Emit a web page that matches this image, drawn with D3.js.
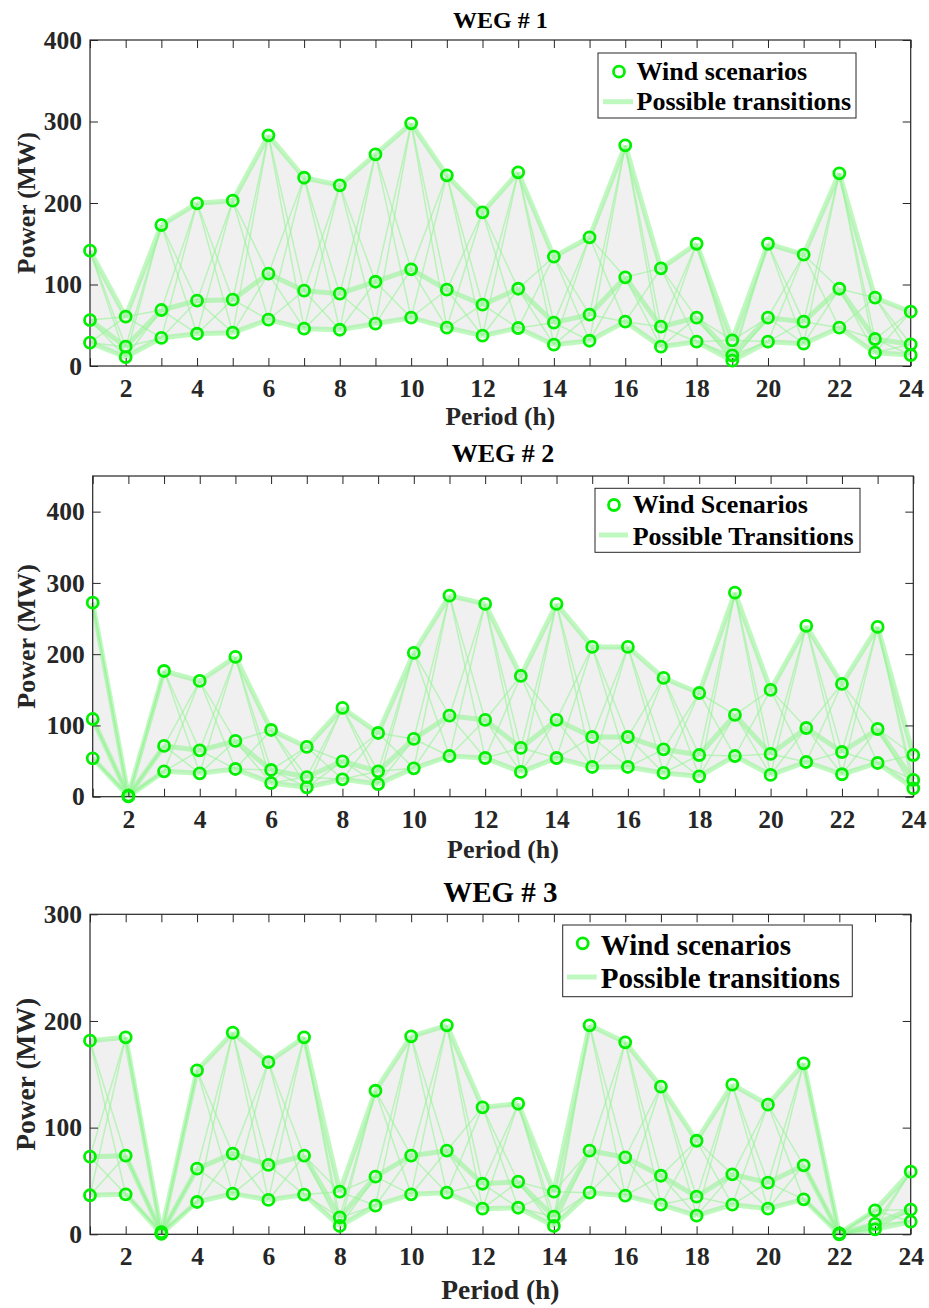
<!DOCTYPE html>
<html>
<head>
<meta charset="utf-8">
<script src="https://cdn.jsdelivr.net/npm/d3@7"></script>
<style>
  body { margin: 0; background: #fff; }
  svg { display: block; font-family: "Liberation Serif", "Times New Roman", serif; font-weight: bold; }
</style>
</head>
<body>
<svg id="chart" width="929" height="1308"></svg>
<script>
// periods (h)
const periods = [1,2,3,4,5,6,7,8,9,10,11,12,13,14,15,16,17,18,19,20,21,22,23,24];

// WEG #1 scenarios (MW)
const weg1High = [141.5, 60.5, 173, 199.6, 202.8, 283, 231, 221.7, 259.7, 297.8, 234, 188.6, 237.6, 134.1, 157.9, 270.8, 119.8, 150, 31.5, 150, 136.6, 236.4, 83.8, 66.6];
const weg1Mid  = [56.4, 23.7, 68.7, 80.1, 81.4, 113.3, 92.4, 88.7, 103.4, 118.6, 93.6, 75.2, 94.8, 53.2, 63, 108.8, 48.2, 59.3, 13.1, 59.3, 54.4, 94.8, 33.1, 26.6];
const weg1Low  = [28.6, 11, 34.4, 39.6, 40.9, 56.8, 45.8, 44.5, 51.9, 59.3, 47, 37.2, 46.6, 26.2, 31, 54.4, 23.7, 29.8, 6.5, 29.8, 27.4, 47, 16.3, 13.5];

// WEG #2 scenarios (MW)
const weg2High = [272.3, 1.5, 176.4, 162.4, 196.1, 93.6, 69.8, 124.5, 89.4, 201.7, 282.1, 270.5, 169.4, 270.5, 210.1, 210.1, 166.6, 145.5, 286.3, 149.8, 239.6, 158.2, 238.2, 58.5];
const weg2Mid  = [109, 1, 71.2, 65.1, 78.2, 37.5, 27.6, 49.7, 35.6, 81, 113.7, 107.7, 68.4, 107.7, 83.8, 83.8, 66.5, 58.5, 114.7, 60, 96.4, 62.7, 95, 23.5];
const weg2Low  = [53.9, 0.5, 35.6, 32.8, 38.9, 19.2, 13.2, 24.4, 17.8, 39.8, 57.1, 54.3, 34.7, 54.3, 41.7, 41.7, 33.3, 28.6, 57.1, 30.5, 48.7, 31.5, 47.3, 11.8];

// WEG #3 scenarios (MW)
const weg3High = [181.5, 184.7, 2, 153.7, 189, 161.5, 184.7, 40, 134.6, 185.6, 195.9, 119, 122.4, 40, 195.9, 180, 138.4, 87.7, 140.3, 121.5, 160.3, 0.8, 22.5, 58.7];
const weg3Mid  = [72.8, 73.7, 1, 61.5, 75.6, 65, 73.7, 15.9, 54, 73.7, 78.4, 47.4, 49.3, 16.5, 78.4, 72.2, 54.9, 35.3, 56.2, 48.4, 64.7, 0.4, 9.7, 23.1];
const weg3Low  = [36.6, 37.5, 0.5, 30.3, 38.1, 32.2, 37.2, 7.8, 26.8, 37.5, 39, 24, 24.9, 7.8, 39, 36.2, 27.8, 17.5, 27.8, 24, 32.8, 0, 4.7, 11.8];

const yTicks1 = [0, 100, 200, 300, 400];
const yTicks2 = [0, 100, 200, 300, 400];
const yTicks3 = [0, 100, 200, 300];

const titles = ['WEG # 1', 'WEG # 2', 'WEG # 3'];
const legendLabels = [
  ['Wind scenarios', 'Possible transitions'],
  ['Wind Scenarios', 'Possible Transitions'],
  ['Wind scenarios', 'Possible transitions']
];

const axisColor = '#262626';
const markerColor = '#00f000';
const transColor = 'rgb(150,245,150)';

const svg = d3.select('#chart');

const panels = [
  { series: [weg1High, weg1Mid, weg1Low], yMax: 400, yTicks: yTicks1, title: titles[0], legend: legendLabels[0],
    left: 90, right: 910.7, top: 40, bottom: 366, titleY: 28, titleSize: 24, labelSize: 25.5, labelY: 425, legendSize: 26,
    lg: { x0: 598, x1: 856, y0: 53, y1: 118, mx: 619, my: 71.7, tx: 636.5, ty1: 80, ty2: 110, lx0: 603, lx1: 633, ly: 101.7 } },
  { series: [weg2High, weg2Mid, weg2Low], yMax: 450, yTicks: yTicks2, title: titles[1], legend: legendLabels[1],
    left: 92.7, right: 913.3, top: 476, bottom: 796.7, titleY: 461.5, titleSize: 26, labelSize: 26, labelY: 858, legendSize: 26,
    lg: { x0: 595, x1: 860, y0: 488.3, y1: 552.3, mx: 614, my: 505, tx: 632.7, ty1: 513, ty2: 545, lx0: 599, lx1: 628, ly: 535 } },
  { series: [weg3High, weg3Mid, weg3Low], yMax: 300, yTicks: yTicks3, title: titles[2], legend: legendLabels[2],
    left: 90, right: 910.7, top: 914.3, bottom: 1234.3, titleY: 901.5, titleSize: 29, labelSize: 27.5, labelY: 1299, legendSize: 29,
    lg: { x0: 562.7, x1: 852.3, y0: 925, y1: 996.7, mx: 582.7, my: 943.3, tx: 600.7, ty1: 955, ty2: 988, lx0: 567, lx1: 596.7, ly: 977 } }
];

const drawPanel = (p) => {
  const xScale = d3.scaleLinear().domain([1, 24]).range([p.left, p.right]);
  const yScale = d3.scaleLinear().domain([0, p.yMax]).range([p.bottom, p.top]);
  const innerW = p.right - p.left;
  const innerH = p.bottom - p.top;
  const g = svg.append('g');

  // grey envelope between max and min scenario
  const envelope = periods.map((t, i) => ({
    t,
    hi: d3.max(p.series, s => s[i]),
    lo: d3.min(p.series, s => s[i])
  }));
  g.append('path')
    .datum(envelope)
    .attr('fill', '#f0f0f0')
    .attr('d', d3.area().x(d => xScale(d.t)).y0(d => yScale(d.lo)).y1(d => yScale(d.hi)));

  // transitions: every scenario at t to every scenario at t+1
  const trans = [];
  for (let k = 0; k < periods.length - 1; k++) {
    p.series.forEach((a, i) => {
      p.series.forEach((b, j) => {
        trans.push({ x1: periods[k], y1: a[k], x2: periods[k + 1], y2: b[k + 1], same: i === j });
      });
    });
  }
  trans.sort((a, b) => a.same - b.same);
  g.selectAll('.trans').data(trans).enter().append('line')
    .attr('class', 'trans')
    .attr('x1', d => xScale(d.x1)).attr('y1', d => yScale(d.y1))
    .attr('x2', d => xScale(d.x2)).attr('y2', d => yScale(d.y2))
    .attr('stroke', transColor)
    .attr('stroke-opacity', 0.6)
    .attr('stroke-width', d => d.same ? 5 : 1.5);

  // axes (ticks pointing inward like matlab)
  const xAxisB = d3.axisBottom(xScale).tickValues(periods).tickSizeInner(-8).tickSizeOuter(0).tickPadding(13)
    .tickFormat(d => d % 2 === 0 ? d : '');
  const xAxisT = d3.axisTop(xScale).tickValues(periods).tickSizeInner(-8).tickSizeOuter(0).tickFormat('');
  const yAxisL = d3.axisLeft(yScale).tickValues(p.yTicks).tickSizeInner(-8).tickSizeOuter(0).tickPadding(8);
  const yAxisR = d3.axisRight(yScale).tickValues(p.yTicks).tickSizeInner(-8).tickSizeOuter(0).tickFormat('');

  const axes = [
    g.append('g').attr('transform', `translate(0,${p.bottom})`).call(xAxisB),
    g.append('g').attr('transform', `translate(0,${p.top})`).call(xAxisT),
    g.append('g').attr('transform', `translate(${p.left},0)`).call(yAxisL),
    g.append('g').attr('transform', `translate(${p.right},0)`).call(yAxisR)
  ];
  axes.forEach(a => {
    a.selectAll('.domain').remove();
    a.selectAll('.tick line').attr('stroke', axisColor).attr('stroke-width', 1);
    a.selectAll('.tick text')
      .attr('fill', axisColor)
      .style('font-size', '25.5px')
      .style('font-family', '"Liberation Serif", "Times New Roman", serif')
      .style('font-weight', 'bold');
  });

  g.append('rect')
    .attr('x', p.left).attr('y', p.top)
    .attr('width', innerW).attr('height', innerH)
    .attr('fill', 'none')
    .attr('stroke', axisColor)
    .attr('stroke-width', 1.2);

  // scenario markers
  const pts = [];
  p.series.forEach(s => s.forEach((v, i) => pts.push({ t: periods[i], v })));
  g.selectAll('.pt').data(pts).enter().append('circle')
    .attr('class', 'pt')
    .attr('cx', d => xScale(d.t))
    .attr('cy', d => yScale(d.v))
    .attr('r', 5.5)
    .attr('fill', 'none')
    .attr('stroke', markerColor)
    .attr('stroke-width', 2.8);

  // title and axis labels
  g.append('text')
    .attr('x', (p.left + p.right) / 2)
    .attr('y', p.titleY)
    .attr('text-anchor', 'middle')
    .attr('fill', '#000')
    .style('font-size', p.titleSize + 'px')
    .text(p.title);

  g.append('text')
    .attr('x', (p.left + p.right) / 2)
    .attr('y', p.labelY)
    .attr('text-anchor', 'middle')
    .attr('fill', axisColor)
    .style('font-size', p.labelSize + 'px')
    .text('Period (h)');

  g.append('text')
    .attr('transform', `translate(35,${(p.top + p.bottom) / 2}) rotate(-90)`)
    .attr('text-anchor', 'middle')
    .attr('fill', axisColor)
    .style('font-size', p.labelSize + 'px')
    .text('Power (MW)');

  // legend
  const lg = p.lg;
  g.append('rect')
    .attr('x', lg.x0).attr('y', lg.y0)
    .attr('width', lg.x1 - lg.x0).attr('height', lg.y1 - lg.y0)
    .attr('fill', '#fff')
    .attr('stroke', axisColor)
    .attr('stroke-width', 1);
  g.append('circle')
    .attr('cx', lg.mx).attr('cy', lg.my).attr('r', 5.5)
    .attr('fill', 'none').attr('stroke', markerColor).attr('stroke-width', 2.8);
  g.append('line')
    .attr('x1', lg.lx0).attr('x2', lg.lx1).attr('y1', lg.ly).attr('y2', lg.ly)
    .attr('stroke', transColor).attr('stroke-opacity', 0.6).attr('stroke-width', 5);
  g.append('text').attr('x', lg.tx).attr('y', lg.ty1).attr('fill', '#000')
    .style('font-size', p.legendSize + 'px').text(p.legend[0]);
  g.append('text').attr('x', lg.tx).attr('y', lg.ty2).attr('fill', '#000')
    .style('font-size', p.legendSize + 'px').text(p.legend[1]);
};

panels.forEach(drawPanel);
</script>
</body>
</html>
